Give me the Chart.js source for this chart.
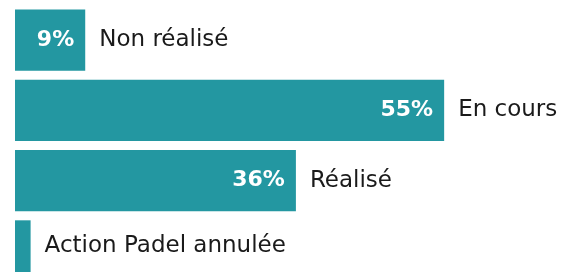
<!DOCTYPE html>
<html>
<head>
<meta charset="utf-8">
<script src="https://cdn.jsdelivr.net/npm/chart.js@4"></script>
<style>
  html, body { margin: 0; padding: 0; background: #fff; overflow: hidden; }
  #wrap { width: 569px; height: 290px; }
</style>
</head>
<body>
<div id="wrap"><canvas id="chart"></canvas></div>
<script>
// Données
const categories = ['Non réalisé', 'En cours', 'Réalisé', 'Action Padel annulée'];
const values = [9, 55, 36, 2];
const valueLabels = ['9%', '55%', '36%', ''];

const teal = '#2397a1';

// Étiquettes : pourcentage dans la barre, catégorie à droite
const barLabels = {
    id: 'barLabels',
    afterDatasetsDraw(chart) {
        const ctx = chart.ctx;
        const meta = chart.getDatasetMeta(0);
        meta.data.forEach((bar, i) => {
            const y = bar.y;
            ctx.save();
            ctx.textBaseline = 'middle';
            if (valueLabels[i]) {
                ctx.fillStyle = '#ffffff';
                ctx.font = 'bold 22px "DejaVu Sans"';
                ctx.textAlign = 'right';
                ctx.fillText(valueLabels[i], bar.x - 11, y);
            }
            ctx.fillStyle = '#1a1a1a';
            ctx.font = '23px "DejaVu Sans"';
            ctx.textAlign = 'left';
            ctx.fillText(categories[i], bar.x + 14, i === 3 ? y - 5 : y);
            ctx.restore();
        });
    }
};

new Chart(document.getElementById('chart'), {
    type: 'bar',
    data: {
        labels: categories,
        datasets: [{
            data: values,
            backgroundColor: teal,
            borderWidth: 0,
            barPercentage: 1,
            categoryPercentage: 0.87
        }]
    },
    options: {
        indexAxis: 'y',
        responsive: true,
        maintainAspectRatio: false,
        animation: false,
        layout: { padding: { left: 15, right: 0, top: 5, bottom: 4 } },
        plugins: {
            legend: { display: false },
            tooltip: { enabled: false }
        },
        scales: {
            x: { display: false, min: 0, max: 71 },
            y: { display: false }
        }
    },
    plugins: [barLabels]
});
</script>
</body>
</html>
